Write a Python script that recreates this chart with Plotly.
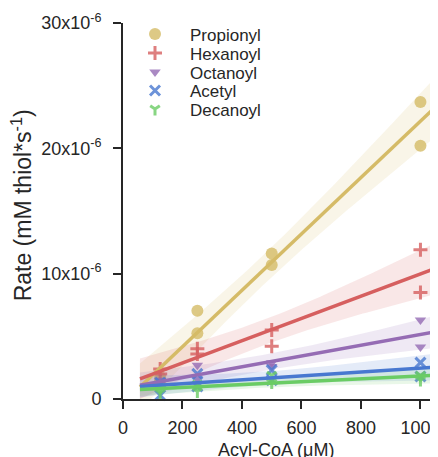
import numpy as np
import plotly.graph_objects as go

# ---------------- data (rates in units of 1e-6 mM thiol/s) ----------------
concentrations = [125, 125, 250, 250, 500, 500, 1000, 1000]
propionyl = [1.75, 1.5, 7.05, 5.24, 11.6, 10.7, 23.7, 20.2]
hexanoyl = [2.4, 2.0, 4.0, 3.6, 5.5, 4.2, 11.9, 8.5]
octanoyl = [1.5, 1.2, 2.7, 1.6, 2.9, 2.6, 6.3, 4.15]
acetyl = [0.3, 1.3, 2.0, 1.0, 2.3, 1.5, 2.9, 1.8]
decanoyl = [0.5, 0.9, 0.6, 1.2, 1.9, 1.3, 1.9, 1.5]

series_names = ["Propionyl", "Hexanoyl", "Octanoyl", "Acetyl", "Decanoyl"]
series_values = [propionyl, hexanoyl, octanoyl, acetyl, decanoyl]
series_colors = ["#D5BB67", "#D65F5F", "#956CB4", "#4878D0", "#6ACC64"]
series_symbols = ["circle", "cross-thin", "triangle-down", "x-thin", "y-down"]
series_sizes = [12, 10, 10, 10, 8]

x_ticks = [0, 200, 400, 600, 800, 1000]
y_ticks = [0, 10e-6, 20e-6, 30e-6]
y_tick_labels = ["0", "10x10<sup>-6</sup>", "20x10<sup>-6</sup>", "30x10<sup>-6</sup>"]

SCALE = 1e-6
X_RANGE = [0, 1059]
Y_RANGE = [0, 30e-6]
FIT_START = 57
T95 = 2.447  # t quantile, df = 6

FONT = "Liberation Sans, Arial, sans-serif"
INK = "#262626"

# page body has an 8px margin: figure sized/margined to compensate
FIG_W, FIG_H = 430, 449
M_L, M_T, M_B = 115, 15, 58
PLOT_TOP_PX, PLOT_BOT_PX = 23, 399  # page pixel rows of plot area
PLOT_H = PLOT_BOT_PX - PLOT_TOP_PX

legend_rows_px = [34.5, 53.5, 72.5, 91, 109.5]


def rgba(hex_color, a):
    h = hex_color.lstrip("#")
    r, g, b = int(h[0:2], 16), int(h[2:4], 16), int(h[4:6], 16)
    return f"rgba({r},{g},{b},{a})"


fig = go.Figure()
x = np.array(concentrations, dtype=float)
grid = np.linspace(FIT_START, X_RANGE[1], 120)
fits = []
legend_layouts = {}

for i, (name, vals, col, sym, sz) in enumerate(zip(series_names, series_values, series_colors,
                                                   series_symbols, series_sizes)):
    y = np.array(vals) * SCALE
    thin = sym.endswith("thin") or sym.startswith("y-")
    marker = dict(symbol=sym, size=sz, color=rgba(col, 0.8))
    if thin:
        marker["line"] = dict(color=rgba(col, 0.8), width=3)
    else:
        marker["line"] = dict(width=0)
    lg = "legend" if i == 0 else f"legend{i + 1}"
    fig.add_trace(go.Scatter(x=x, y=y, mode="markers", name=name, marker=marker,
                             cliponaxis=False, legend=lg))
    legend_layouts[lg] = dict(
        x=-0.0095, y=(PLOT_BOT_PX - legend_rows_px[i]) / PLOT_H,
        xanchor="left", yanchor="middle",
        font=dict(family=FONT, size=17, color=INK),
        bgcolor="rgba(0,0,0,0)", itemwidth=60)
    # regression + 95% CI
    slope, icpt = np.polyfit(x, y, 1)
    yhat = icpt + slope * grid
    resid = y - (icpt + slope * x)
    n = len(x)
    s = np.sqrt(np.sum(resid ** 2) / (n - 2))
    sxx = np.sum((x - x.mean()) ** 2)
    se = s * np.sqrt(1.0 / n + (grid - x.mean()) ** 2 / sxx)
    lo, hi = yhat - T95 * se, yhat + T95 * se
    fig.add_trace(go.Scatter(x=np.concatenate([grid, grid[::-1]]),
                             y=np.concatenate([hi, lo[::-1]]),
                             mode="lines", fill="toself", line=dict(width=0),
                             fillcolor=rgba(col, 0.15), hoverinfo="skip",
                             showlegend=False))
    fits.append((grid, yhat, col))

for g, yh, col in fits:
    fig.add_trace(go.Scatter(x=g, y=yh, mode="lines", line=dict(color=col, width=3.5),
                             showlegend=False, hoverinfo="skip"))

axis_common = dict(showgrid=False, zeroline=False, showline=True, linecolor=INK,
                   linewidth=2, ticks="outside", ticklen=8, tickwidth=2, tickcolor=INK,
                   tickfont=dict(family=FONT, size=18, color=INK))

fig.update_xaxes(range=X_RANGE, tickmode="array", tickvals=x_ticks,
                 ticklabelstandoff=3, ticklabeloverflow="allow", automargin=False,
                 **axis_common)
fig.update_yaxes(range=Y_RANGE, tickmode="array", tickvals=y_ticks,
                 ticktext=y_tick_labels, ticklabelstandoff=8, **axis_common)

fig.update_layout(
    width=FIG_W, height=FIG_H,
    margin=dict(l=M_L, r=0, t=M_T, b=M_B, pad=0),
    plot_bgcolor="white", paper_bgcolor="white",
    font=dict(family=FONT, color=INK),
    annotations=[
        dict(text="Acyl-CoA (\u03bcM)", xref="paper", yref="paper", x=0.4857, y=-0.1356,
             xanchor="center", yanchor="middle", showarrow=False,
             font=dict(family=FONT, size=18, color=INK)),
        dict(text="Rate (mM thiol*s<sup>-1</sup>)", xref="paper", yref="paper",
             x=-0.3206, y=0.515, xanchor="center", yanchor="middle", textangle=-90,
             showarrow=False, font=dict(family=FONT, size=23, color=INK)),
    ],
    **legend_layouts,
)

fig.write_html("out.html")
